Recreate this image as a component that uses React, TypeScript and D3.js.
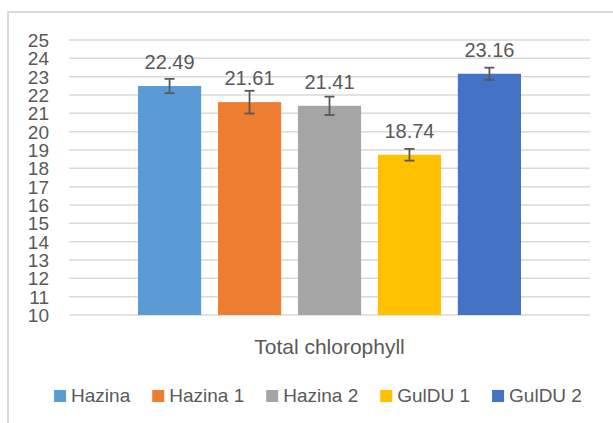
import { useEffect, useRef } from "react";
import * as d3 from "d3";

// data
const category = "Total chlorophyll";
const seriesNames = ["Hazina", "Hazina 1", "Hazina 2", "GulDU 1", "GulDU 2"];
const values = [22.49, 21.61, 21.41, 18.74, 23.16];
const errors = [0.39, 0.62, 0.5, 0.32, 0.33];
const colors = ["#5B9BD5", "#ED7D31", "#A5A5A5", "#FFC000", "#4472C4"];
const yTicks = [10, 11, 12, 13, 14, 15, 16, 17, 18, 19, 20, 21, 22, 23, 24, 25];

export default function App() {
    const svgRef = useRef<SVGSVGElement>(null);

    const width = 613;
    const height = 423;
    const plot = { left: 69, right: 590, top: 40, bottom: 315 };
    const textColor = "#595959";
    const font = "'Liberation Sans', Arial, sans-serif";

    useEffect(() => {
        const svg = d3.select(svgRef.current);
        svg.selectAll("*").remove();

        const y = d3.scaleLinear().domain([10, 25]).range([plot.bottom, plot.top]);
        const outer = 69;
        const x = d3
            .scaleBand()
            .domain(seriesNames)
            .range([plot.left + outer, plot.right - outer])
            .paddingInner(0.21);

        // chart frame (top + left visible)
        svg.append("path")
            .attr("d", `M8,${height} V12 H${width}`)
            .attr("fill", "none")
            .attr("stroke", "#D9D9D9")
            .attr("stroke-width", 2);

        // gridlines
        svg.append("g")
            .selectAll("line")
            .data(yTicks)
            .join("line")
            .attr("x1", plot.left)
            .attr("x2", plot.right)
            .attr("y1", (d) => y(d))
            .attr("y2", (d) => y(d))
            .attr("stroke", "#D9D9D9")
            .attr("stroke-width", 1.5);

        // tick labels
        svg.append("g")
            .selectAll("text")
            .data(yTicks)
            .join("text")
            .attr("x", 49)
            .attr("y", (d) => y(d))
            .attr("dy", "0.36em")
            .attr("text-anchor", "end")
            .attr("font-size", 19)
            .attr("font-family", font)
            .attr("fill", textColor)
            .text((d) => d);

        const data = seriesNames.map((name, i) => ({
            name,
            value: values[i],
            err: errors[i],
            color: colors[i],
        }));

        // bars
        svg.append("g")
            .selectAll("rect")
            .data(data)
            .join("rect")
            .attr("x", (d) => x(d.name)!)
            .attr("width", x.bandwidth())
            .attr("y", (d) => y(d.value))
            .attr("height", (d) => y(10) - y(d.value))
            .attr("fill", (d) => d.color);

        // error bars
        const eb = svg.append("g")
            .attr("stroke", textColor)
            .attr("stroke-width", 1.8)
            .selectAll("g")
            .data(data)
            .join("g")
            .attr("transform", (d) => `translate(${x(d.name)! + x.bandwidth() / 2},0)`);
        eb.append("line")
            .attr("y1", (d) => y(d.value + d.err))
            .attr("y2", (d) => y(d.value - d.err));
        eb.append("line")
            .attr("x1", -5)
            .attr("x2", 5)
            .attr("y1", (d) => y(d.value + d.err))
            .attr("y2", (d) => y(d.value + d.err));
        eb.append("line")
            .attr("x1", -5)
            .attr("x2", 5)
            .attr("y1", (d) => y(d.value - d.err))
            .attr("y2", (d) => y(d.value - d.err));

        // value labels
        svg.append("g")
            .selectAll("text")
            .data(data)
            .join("text")
            .attr("x", (d) => x(d.name)! + x.bandwidth() / 2)
            .attr("y", (d) => y(d.value) - 17)
            .attr("text-anchor", "middle")
            .attr("font-size", 20)
            .attr("font-family", font)
            .attr("fill", textColor)
            .text((d) => d.value.toFixed(2));

        // category label
        svg.append("text")
            .attr("x", (plot.left + plot.right) / 2)
            .attr("y", 354)
            .attr("text-anchor", "middle")
            .attr("font-size", 21)
            .attr("font-family", font)
            .attr("fill", textColor)
            .text(category);

        // legend
        const legend = svg.append("g");
        const items = legend
            .selectAll("g")
            .data(data)
            .join("g");
        items.append("rect")
            .attr("width", 12)
            .attr("height", 12)
            .attr("y", -12)
            .attr("fill", (d) => d.color);
        items.append("text")
            .attr("x", 17)
            .attr("font-size", 19)
            .attr("font-family", font)
            .attr("fill", textColor)
            .text((d) => d.name);
        let cx = 0;
        items.each(function () {
            const g = d3.select(this);
            const w = (g.select("text").node() as SVGTextElement).getComputedTextLength();
            g.attr("transform", `translate(${cx},0)`);
            cx += 17 + w + 22;
        });
        const total = cx - 22;
        legend.attr("transform", `translate(${318 - total / 2},402)`);
    }, []);

    return (
        <svg
            ref={svgRef}
            width={width}
            height={height}
            style={{ position: "absolute", left: 0, top: 0, background: "#fff" }}
        ></svg>
    );
}
